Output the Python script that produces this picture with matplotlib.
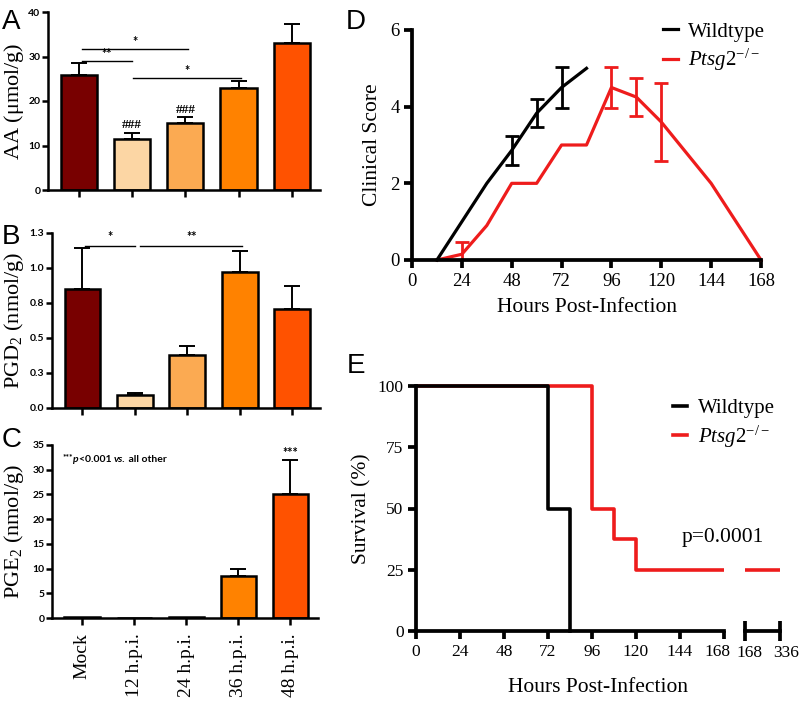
import numpy as np
import matplotlib.pyplot as plt
from matplotlib.transforms import Bbox, TransformedBbox, ScaledTranslation

plt.rcParams['font.family'] = 'Liberation Serif'
plt.rcParams['mathtext.fontset'] = 'custom'
plt.rcParams['mathtext.rm'] = 'Liberation Serif'
plt.rcParams['mathtext.it'] = 'Liberation Serif:italic'
plt.rcParams['mathtext.bf'] = 'Liberation Serif:bold'

# bar panels A-C
groups = ['Mock', '12 h.p.i.', '24 h.p.i.', '36 h.p.i.', '48 h.p.i.']
bar_colors = ['#780000', '#fcd6a4', '#fbaa52', '#ff8200', '#ff5200']

aa_mean = [25.8, 11.5, 15.0, 23.0, 33.0]
aa_sem = [2.7, 1.3, 1.3, 1.5, 4.3]
pgd2_mean = [0.85, 0.09, 0.38, 0.97, 0.71]
pgd2_sem = [0.29, 0.02, 0.06, 0.15, 0.16]
pge2_mean = [0.2, 0.1, 0.2, 8.5, 25.0]
pge2_sem = [0.0, 0.0, 0.0, 1.4, 7.0]

# significance brackets (from group, to group, height, label)
aa_sig = [(0.05, 2.05, 31.6, '*'), (0.05, 1.0, 29.0, '**'), (1.02, 3.05, 25.1, '*')]
pgd2_sig = [(0.05, 1.0, 1.16, '*'), (1.1, 3.05, 1.16, '**')]

# panel D clinical score
wt_hours = [12, 24, 36, 48, 60, 72, 84]
wt_score = [0, 1.0, 2.0, 2.86, 3.83, 4.5, 5.0]
wt_score_sem = [0, 0, 0, 0.37, 0.36, 0.54, 0]
ko_hours = [12, 24, 36, 48, 60, 72, 84, 96, 108, 120, 144, 168]
ko_score = [0, 0.15, 0.9, 2.0, 2.0, 3.0, 3.0, 4.5, 4.25, 3.6, 2.0, 0]
ko_score_sem = [0, 0.33, 0, 0, 0, 0, 0, 0.54, 0.5, 1.03, 0, 0]

# panel E survival
wt_surv_hours = [0, 72, 84]
wt_surv = [100, 50, 0]
ko_surv_hours = [0, 96, 108, 120, 336]
ko_surv = [100, 50, 37.5, 25, 25]

KO_LABEL = r'$\mathit{Ptsg2}^{\mathrm{-/-}}$'
RED = '#ee1c1c'
W, H = 805, 705


def px_axes(fig, l, t, r, b):
    return fig.add_axes([l / W, 1 - b / H, (r - l) / W, (b - t) / H])


def bar_panel(ax, means, sems, ylim, yticks, yticklabels, ylabel, xlabels=False):
    x = np.arange(len(groups))
    ax.bar(x, means, width=0.68, color=bar_colors, edgecolor='black',
           linewidth=1.8, zorder=2)
    sems = np.array(sems)
    m = sems > 0
    ax.errorbar(x[m], np.array(means)[m], yerr=[np.zeros(m.sum()), sems[m]],
                fmt='none', ecolor='black', elinewidth=1.4, capsize=6,
                capthick=1.4, zorder=1)
    ax.set_xlim(-0.58, 4.53)
    ax.set_ylim(*ylim)
    ax.set_yticks(yticks)
    ax.set_yticklabels(yticklabels, fontfamily='Lato', fontweight='bold',
                       fontsize=7.5)
    ax.set_xticks(x)
    if xlabels:
        ax.set_xticklabels(groups, rotation=90, fontsize=14)
    else:
        ax.set_xticklabels([])
    for s in ['top', 'right']:
        ax.spines[s].set_visible(False)
    for s in ['left', 'bottom']:
        ax.spines[s].set_linewidth(1.8)
    ax.tick_params(direction='out', length=4, width=1.8, pad=1.5)
    ax.tick_params(axis='x', length=5, pad=6)
    ax.set_ylabel(ylabel, fontsize=16)
    # right edge of the rotated label at about x = 26 px
    left = ax.get_position().x0 * W
    width = ax.get_position().width * W
    ax.yaxis.set_label_coords((26 - left) / width, 0.5)


def add_sig(ax, sig, dy):
    for x0, x1, y, lab in sig:
        ax.plot([x0, x1], [y, y], color='black', lw=1.0)
        ax.text((x0 + x1) / 2, y + dy, lab, ha='center', va='center',
                fontfamily='Lato', fontweight='bold', fontsize=9)


def thick_axes(ax, labelsize):
    for s in ['top', 'right']:
        ax.spines[s].set_visible(False)
    for s in ['left', 'bottom']:
        ax.spines[s].set_linewidth(2.7)
    ax.tick_params(direction='out', length=6, width=2.7, labelsize=labelsize, pad=3)


def loose_clip(line, ax):
    line.set_clip_box(TransformedBbox(Bbox([[0, -0.1], [1, 1.1]]), ax.transAxes))


def nudge(label, dx_px):
    label.set_transform(label.get_transform() +
                        ScaledTranslation(dx_px / 100, 0, fig.dpi_scale_trans))


fig = plt.figure(figsize=(W / 100, H / 100), dpi=100)

# A
ax_a = px_axes(fig, 48, 12, 320, 190)
bar_panel(ax_a, aa_mean, aa_sem, (0, 40), [0, 10, 20, 30, 40],
          ['0', '10', '20', '30', '40'], r'AA ($\mathrm{\mu}$mol/g)')
add_sig(ax_a, aa_sig, 1.6)
for i in [1, 2]:
    ax_a.text(i, aa_mean[i] + aa_sem[i] + 0.4, '###', ha='center', va='bottom',
              fontsize=9.5, fontweight='bold')

# B
ax_b = px_axes(fig, 52, 233, 320, 408)
bar_panel(ax_b, pgd2_mean, pgd2_sem, (0, 1.25), [0, 0.25, 0.5, 0.75, 1.0, 1.25],
          ['0.0', '0.3', '0.5', '0.8', '1.0', '1.3'], r'PGD$_2$ (nmol/g)')
add_sig(ax_b, pgd2_sig, 0.06)

# C
ax_c = px_axes(fig, 52, 445, 318, 618)
bar_panel(ax_c, pge2_mean, pge2_sem, (0, 35), np.arange(0, 36, 5),
          [str(v) for v in range(0, 36, 5)], r'PGE$_2$ (nmol/g)', xlabels=True)
ax_c.text(4, pge2_mean[4] + pge2_sem[4] + 0.2, '***', ha='center', va='bottom',
          fontfamily='Lato', fontweight='bold', fontsize=9)
t1 = ax_c.text(0.04, 0.915, '***', transform=ax_c.transAxes, fontfamily='Lato',
               fontweight='bold', fontsize=6, va='bottom')
t2 = ax_c.annotate('p', xy=(1, 0), xycoords=t1, xytext=(0, -3),
                   textcoords='offset points', va='bottom', fontfamily='Lato',
                   fontweight='bold', fontstyle='italic', fontsize=7.5)
t3 = ax_c.annotate('<0.001 ', xy=(1, 0), xycoords=t2, va='bottom',
                   fontfamily='Lato', fontweight='bold', fontsize=7.5)
t4 = ax_c.annotate('vs.', xy=(1, 0), xycoords=t3, va='bottom', fontfamily='Lato',
                   fontweight='bold', fontstyle='italic', fontsize=7.5)
ax_c.annotate(' all other', xy=(1, 0), xycoords=t4, va='bottom',
              fontfamily='Lato', fontweight='bold', fontsize=7.5)

# D
ax_d = px_axes(fig, 412, 30, 761, 260)
thick_axes(ax_d, 13.5)
wt_sem = np.array(wt_score_sem)
ko_sem = np.array(ko_score_sem)
ax_d.plot(wt_hours, wt_score, color='black', lw=2.3, label='Wildtype',
          clip_on=False, zorder=3)
m = wt_sem > 0
ax_d.errorbar(np.array(wt_hours)[m], np.array(wt_score)[m], yerr=wt_sem[m],
              fmt='none', ecolor='black', elinewidth=2.0, capsize=5,
              capthick=2.0, zorder=3)
ax_d.plot(ko_hours, ko_score, color=RED, lw=2.3, label=KO_LABEL,
          clip_on=False, zorder=2)
m = ko_sem > 0
ax_d.errorbar(np.array(ko_hours)[m], np.array(ko_score)[m], yerr=ko_sem[m],
              fmt='none', ecolor=RED, elinewidth=2.0, capsize=5,
              capthick=2.0, zorder=2)
ax_d.set_xlim(0, 168)
ax_d.set_ylim(0, 6)
ax_d.set_xticks(np.arange(0, 169, 24))
ax_d.set_yticks([0, 2, 4, 6])
ax_d.set_xlabel('Hours Post-Infection', fontsize=15.5, labelpad=6)
ax_d.set_ylabel('Clinical Score', fontsize=15.5, labelpad=6)
ax_d.legend(loc='upper left', bbox_to_anchor=(0.69, 1.08), frameon=False,
            fontsize=15, handlelength=0.7, handletextpad=0.5,
            labelspacing=0.25, borderpad=0)

# E
ax_e = px_axes(fig, 416, 386, 724, 631)
thick_axes(ax_e, 12.5)
ln, = ax_e.step(ko_surv_hours, ko_surv, where='post', color=RED, lw=2.6,
                label=KO_LABEL)
loose_clip(ln, ax_e)
ln, = ax_e.step(wt_surv_hours, wt_surv, where='post', color='black', lw=2.6,
                label='Wildtype')
loose_clip(ln, ax_e)
ax_e.set_xlim(0, 168)
ax_e.set_ylim(0, 100)
ax_e.set_xticks(np.arange(0, 169, 24))
ax_e.set_xticks([168], minor=True)
ax_e.tick_params(axis='x', which='minor', direction='inout', length=14, width=2.7)
ax_e.set_yticks([0, 25, 50, 75, 100])
ax_e.set_ylabel('Survival (%)', fontsize=15.5, labelpad=4)
ax_e.text(145, 38, 'p=0.0001', fontsize=15.5, va='center')
handles, labels = ax_e.get_legend_handles_labels()
ax_e.legend(handles[::-1], labels[::-1], loc='upper left',
            bbox_to_anchor=(0.8, 0.99), frameon=False, fontsize=15,
            handlelength=0.7, handletextpad=0.5, labelspacing=0.25, borderpad=0)
nudge(ax_e.get_xticklabels()[-1], -7)

ax_e2 = px_axes(fig, 745, 386, 780, 631)
ax_e2.patch.set_visible(False)
for s in ['top', 'right', 'left']:
    ax_e2.spines[s].set_visible(False)
ax_e2.spines['bottom'].set_linewidth(2.7)
ln, = ax_e2.step(ko_surv_hours, ko_surv, where='post', color=RED, lw=2.6)
loose_clip(ln, ax_e2)
ax_e2.set_xlim(168, 336)
ax_e2.set_ylim(0, 100)
ax_e2.set_yticks([])
ax_e2.set_xticks([168, 336])
ax_e2.tick_params(axis='x', direction='inout', length=14, width=2.7,
                  labelsize=12.5, pad=3)
nudge(ax_e2.get_xticklabels()[0], 4)
nudge(ax_e2.get_xticklabels()[1], 6)
fig.text(0.5 * (416 + 780) / W, 1 - 688 / H, 'Hours Post-Infection',
         fontsize=15.5, ha='center', va='center')

# panel letters
for lab, x, y in [('A', 11, 22), ('B', 11, 237), ('C', 12, 440),
                  ('D', 356, 22), ('E', 356, 366)]:
    fig.text(x / W, 1 - y / H, lab, fontsize=20, fontfamily='Liberation Sans',
             ha='center', va='center')

plt.savefig('out.png', dpi=100)
